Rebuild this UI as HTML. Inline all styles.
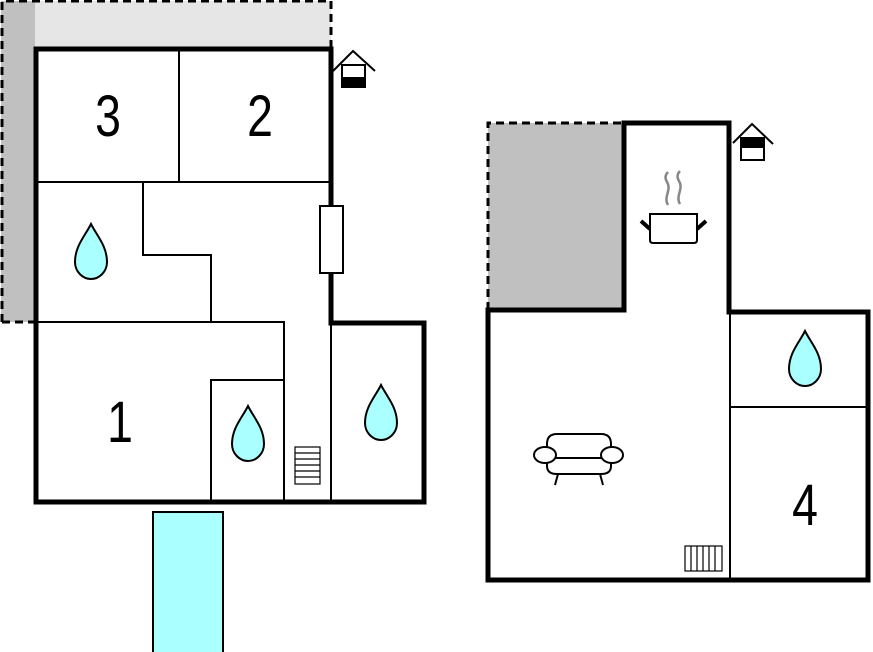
<!DOCTYPE html>
<html><head><meta charset="utf-8"><style>
html,body{margin:0;padding:0;background:#fff;width:873px;height:652px;overflow:hidden}
svg{display:block}
text{font-family:"Liberation Sans",sans-serif;font-size:58px;fill:#000;text-anchor:middle}
</style></head><body>
<svg width="873" height="652" viewBox="0 0 873 652" xmlns="http://www.w3.org/2000/svg">
<defs>
<path id="drop" d="M0,-28 C6,-16 16,-6 16,10 C16,20 8,27 0,27 C-8,27 -16,20 -16,10 C-16,-6 -6,-16 0,-28 Z" fill="#aaffff" stroke="#000" stroke-width="2"/>
</defs>
<rect x="1" y="1" width="34" height="321" fill="#c0c0c0"/>
<rect x="35" y="1" width="296" height="46" fill="#e6e6e6"/>
<path d="M2,322 L2,1 L331,1 L331,47" fill="none" stroke="#000" stroke-width="3" stroke-dasharray="8,5"/>
<path d="M2,322 L35,322" fill="none" stroke="#000" stroke-width="3" stroke-dasharray="8,5"/>
<g stroke="#000" stroke-width="2" fill="none">
<path d="M35,182 H331"/>
<path d="M179,48 V182"/>
<path d="M143,182 V255 H211 V322"/>
<path d="M35,322 H284 V502"/>
<path d="M211,502 V380 H284"/>
<path d="M331,323 V502"/>
</g>
<path d="M36,49 H331 V323 H424 V502 H36 Z" fill="none" stroke="#000" stroke-width="5"/>
<rect x="320" y="206" width="23" height="67" fill="#fff" stroke="#000" stroke-width="2"/>
<g stroke="#000" stroke-width="1.2" fill="#fff">
<rect x="295" y="447" width="25" height="37"/>
<path d="M295,453 H320 M295,459 H320 M295,465 H320 M295,471 H320 M295,477 H320"/>
</g>
<rect x="153" y="512" width="70" height="145" fill="#aaffff" stroke="#000" stroke-width="2"/>
<text transform="translate(108,136) scale(0.8,1)">3</text>
<text transform="translate(260,136) scale(0.8,1)">2</text>
<text transform="translate(120,442) scale(0.8,1)">1</text>
<use href="#drop" x="91" y="252"/>
<use href="#drop" x="248" y="434"/>
<use href="#drop" x="381" y="413"/>
<g stroke="#000" stroke-width="2" fill="none">
<path d="M333,71 L353,51 L375,71"/>
<rect x="342" y="65" width="23" height="22" fill="#fff"/>
</g>
<rect x="342" y="77" width="24" height="11" fill="#000"/>

<rect x="488" y="123" width="136" height="187" fill="#c0c0c0"/>
<path d="M488,310 L488,123 L624,123" fill="none" stroke="#000" stroke-width="3" stroke-dasharray="8,5"/>
<g stroke="#000" stroke-width="2" fill="none">
<path d="M730,310 V581"/>
<path d="M730,407 H868"/>
</g>
<path d="M624,310 V123 H729 V312 H868 V580 H488 V310 Z" fill="none" stroke="#000" stroke-width="5"/>
<use href="#drop" x="805" y="359"/>
<text transform="translate(805,525) scale(0.8,1)">4</text>
<g stroke="#000" stroke-width="1.2" fill="#fff">
<rect x="685" y="546" width="37" height="25"/>
<path d="M691,546 V571 M697,546 V571 M703,546 V571 M709,546 V571 M715,546 V571"/>
</g>
<g fill="none">
<path d="M668,205 C663,197 672,190 667,182 C664,177 666,174 668,172" stroke="#888" stroke-width="2.5"/>
<path d="M680,204 C675,196 684,189 679,181 C676,176 678,173 680,171" stroke="#888" stroke-width="2.5"/>
<path d="M650,214 H697 V240 Q697,243 694,243 H653 Q650,243 650,240 Z" stroke="#000" stroke-width="2" fill="#fff"/>
<path d="M641,221 L650,229 M706,221 L697,229" stroke="#000" stroke-width="4"/>
</g>
<g stroke="#000" stroke-width="2" fill="#fff">
<path d="M547,458 V444 Q547,434 557,434 H601 Q611,434 611,444 V458"/>
<path d="M547,458 V466 Q547,474 557,474 H601 Q611,474 611,466 V458 Z"/>
<path d="M556,458 H601"/>
<ellipse cx="545" cy="455" rx="11" ry="8"/>
<ellipse cx="612" cy="455" rx="11" ry="8"/>
<path d="M558,474 L555,485 M600,474 L603,485" fill="none"/>
</g>
<g stroke="#000" stroke-width="2" fill="none">
<path d="M733,143 L752,124 L773,144"/>
<rect x="741" y="138" width="23" height="22" fill="#fff"/>
</g>
<rect x="741" y="138" width="24" height="10" fill="#000"/>
</svg>
</body></html>
